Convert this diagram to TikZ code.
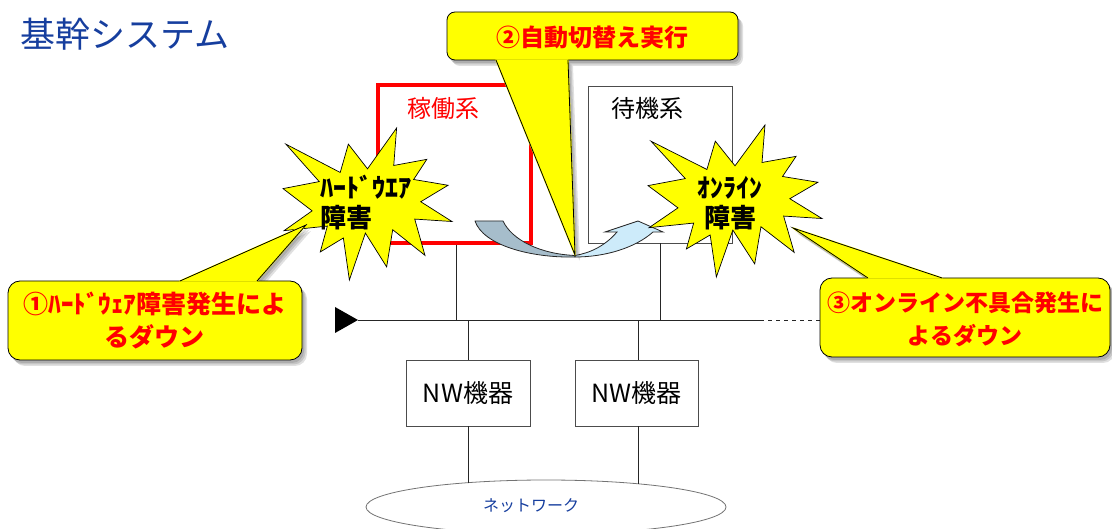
\documentclass[tikz,border=0pt]{standalone}
\usepackage{fontspec}
\setmainfont{Noto Sans CJK JP}
\usetikzlibrary{shapes.geometric,calc}
\definecolor{titleblue}{RGB}{22,62,158}
\definecolor{arrowback}{RGB}{166,189,203}
\definecolor{arrowfront}{RGB}{205,235,250}
\definecolor{callyellow}{RGB}{255,255,0}
\tikzset{
  every node/.style={inner sep=0pt},
  boxsty/.style={draw=black!70, line width=0.8pt, fill=white},
  conn/.style={draw=black!85, line width=0.8pt},
  callfill/.style={fill=callyellow, draw=black, line width=0.8pt},
  shadowsty/.style={fill=black, opacity=0.12},
  calltxt/.style={text=red, font=\bfseries\fontsize{24}{33}\selectfont, align=center},
  startxt/.style={text=black, font=\bfseries\fontsize{26}{30}\selectfont},
  starsty/.style={fill=callyellow, draw=black, line width=0.7pt, line join=miter},
}
\newcommand{\mycallout}[6]{%
  \foreach \sx/\sy in {2/-3,3.5/-4.5,5/-6}{%
    \begin{scope}[shift={(\sx pt,\sy pt)}]
      \fill[shadowsty, rounded corners=#6] #1 rectangle #2;
      \fill[shadowsty] #3 -- #4 -- #5 -- cycle;
    \end{scope}}
  \filldraw[callfill, rounded corners=#6] #1 rectangle #2;
  \filldraw[fill=callyellow, draw=callyellow, line width=1.4pt, line join=round] #3 -- #4 -- #5 -- cycle;
  \draw[black, line width=0.8pt, line join=miter] #3 -- #4 -- #5;
}
\newcommand{\sealshape}{%
  \draw[starsty] (50,26.85) -- (67.23,0) -- (65.53,24.65) -- (85.09,20.63) -- (77.32,33.87)
   -- (97.67,37.67) -- (81.51,48.50) -- (100,61.53) -- (77.95,59.92) -- (84.00,83.77)
   -- (64.91,66.93) -- (61.33,91.38) -- (48.76,69.14) -- (39.28,100) -- (35.72,72.35)
   -- (22.05,81.56) -- (26.24,64.52) -- (0.63,67.53) -- (17.23,54.51) -- (0,39.88)
   -- (21.42,35.26) -- (1.71,10.63) -- (33.85,29.26) -- (38.67,10.63) -- cycle;%
}
\begin{document}
\begin{tikzpicture}[x=1pt, y=-1pt]
\useasboundingbox (0,0) rectangle (1112,529);

% title
\node[anchor=west, text=titleblue, font=\fontsize{35}{40}\selectfont] (title) at (20,34) {基幹システム};

% system boxes
\node[draw=red, line width=4pt, fill=white, minimum width=153pt, minimum height=158pt] (act) at (454.5,164) {};
\node[text=red, font=\fontsize{24}{28}\selectfont] (actlbl) at (443,108) {稼働系};
\node[boxsty, minimum width=144pt, minimum height=157pt] (sb) at (660,164.5) {};
\node[font=\fontsize{24}{28}\selectfont] (sblbl) at (647.5,108) {待機系};

% bus
\coordinate (busL) at (358,320);
\coordinate (busR) at (760,320);
\coordinate (busE) at (822,320);
\coordinate (b1) at (456,320);
\coordinate (b2) at (660,320);
\coordinate (b3) at (468,321);
\coordinate (b4) at (638,321);
\fill[black] (335,307) -- (busL) -- (335,333) -- cycle;
\draw[conn] (busL) -- (busR);
\draw[conn, dashed, dash pattern=on 4pt off 4pt] (busR) -- (busE);
\draw[conn] (act.south -| b1) -- (b1);
\draw[conn] (sb.south -| b2) -- (b2);

% NW devices
\node[boxsty, minimum width=124pt, minimum height=66pt, font=\fontsize{25}{28}\selectfont] (nw1) at (468,393) {NW機器};
\node[boxsty, minimum width=123pt, minimum height=66pt, font=\fontsize{25}{28}\selectfont] (nw2) at (636.5,393) {NW機器};
\draw[conn] (b3) -- (nw1.north -| b3);
\draw[conn] (b4) -- (nw2.north -| b4);

% network cloud
\node[ellipse, draw=black!55, line width=0.8pt, minimum width=360pt, minimum height=54pt] (net) at (546,507) {};
\node[text=titleblue, font=\fontsize{16}{18}\selectfont] (nettxt) at (531,506) {ネットワーク};
\draw[conn] (nw1.south -| b3) -- ($(b3 |- net.north)+(0,3)$);
\draw[conn] (nw2.south -| b4) -- ($(b4 |- net.north)+(0,4)$);

% curved switch-over arrow
\coordinate (arrbot) at (575,257);
\filldraw[fill=arrowback, draw=black!85, line width=0.8pt, line join=round]
  (475,221) -- (503,221) .. controls (512,240) and (540,254) .. (575,255.5)
  -- (arrbot) .. controls (530,258) and (483,245) .. (475,221) -- cycle;
\filldraw[fill=arrowfront, draw=black!85, line width=0.8pt, line join=miter]
  (arrbot) .. controls (605,257) and (635,248) .. (653,232) -- (663,232) -- (638,221)
  -- (605,232) -- (617,232) .. controls (605,246) and (590,253) .. (575,255.5) -- cycle;

% callout 2
\mycallout{(447,12)}{(738,60)}{(496,60)}{(575,255)}{(568,60)}{8pt}
\node[calltxt] (c2) at (592,37) {②自動切替え実行};

% explosions
\begin{scope}[shift={(283pt,-128pt)}, x=1.69pt, y=-1.52pt]
  \sealshape
\end{scope}
\node[startxt, align=left, anchor=west] (s1) at (320,203) {ﾊｰﾄﾞｳｴｱ\\障害};
\begin{scope}[shift={(648pt,-125pt)}, x=1.74pt, y=-1.52pt]
  \sealshape
\end{scope}
\node[startxt, align=center] (s2) at (730,203) {ｵﾝﾗｲﾝ\\障害};

% callout 1
\mycallout{(8,281)}{(302,360)}{(180,281)}{(306,225)}{(257,281)}{12pt}
\node[calltxt, font=\bfseries\fontsize{25}{33}\selectfont] (c1) at (155,321) {①ﾊｰﾄﾞｳｪｱ障害発生によ\\るダウン};

% callout 3
\mycallout{(820,278)}{(1110,357)}{(868,278)}{(793,228)}{(942,278)}{12pt}
\node[calltxt, font=\bfseries\fontsize{23}{33}\selectfont] (c3) at (965,319) {③オンライン不具合発生に\\よるダウン};
\end{tikzpicture}
\end{document}
